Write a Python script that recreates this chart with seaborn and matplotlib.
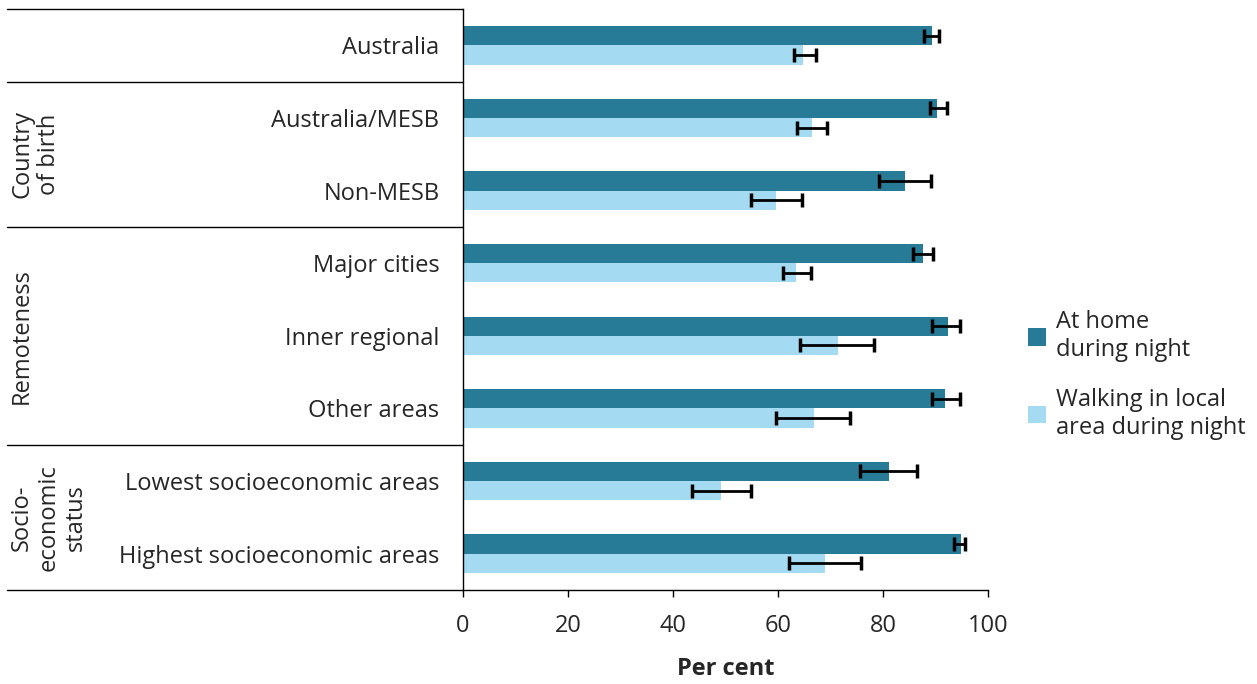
import matplotlib
matplotlib.use("Agg")
import matplotlib.pyplot as plt
import matplotlib.transforms as mtransforms
import numpy as np
import pandas as pd
import seaborn as sns

# Data
categories = ['Australia', 'Australia/MESB', 'Non-MESB', 'Major cities',
              'Inner regional', 'Other areas', 'Lowest socioeconomic areas',
              'Highest socioeconomic areas']
series = ['At home\nduring night', 'Walking in local\narea during night']

home = [89.3, 90.2, 84.2, 87.7, 92.3, 91.8, 81.1, 94.9]
home_lo = [87.9, 88.9, 79.2, 85.8, 89.4, 89.4, 75.7, 93.5]
home_hi = [90.7, 92.2, 89.1, 89.6, 94.7, 94.7, 86.5, 95.7]

walk = [64.8, 66.4, 59.7, 63.4, 71.4, 66.9, 49.1, 69.0]
walk_lo = [63.0, 63.6, 54.9, 61.0, 64.1, 59.6, 43.7, 62.0]
walk_hi = [67.2, 69.3, 64.6, 66.2, 78.3, 73.8, 54.9, 75.8]

groups = ['Country\nof birth', 'Remoteness', 'Socio-\neconomic\nstatus']
group_centres = [1.5, 4.0, 6.5]
separators = [-0.5, 0.5, 2.5, 5.5, 7.5]

colours = ['#277b96', '#a4dbf2']

df = pd.DataFrame({
    'category': categories * 2,
    'series': [series[0]] * len(categories) + [series[1]] * len(categories),
    'value': home + walk,
})

sns.set_style('white')
plt.rcParams['font.family'] = ['Open Sans', 'DejaVu Sans']
fs = 17

fig = plt.figure(figsize=(12.57, 6.84), dpi=100)
ax = fig.add_axes([463 / 1257, 1 - 590 / 684, 525 / 1257, 581 / 684])

sns.barplot(data=df, y='category', x='value', hue='series', order=categories,
            hue_order=series, palette=colours, orient='h', width=0.53,
            saturation=1, linewidth=0, ax=ax, errorbar=None)

# error bars centred on each bar from the bar containers
for cont, vals, lo, hi in zip(ax.containers, [home, walk], [home_lo, walk_lo], [home_hi, walk_hi]):
    ys = [p.get_y() + p.get_height() / 2 for p in cont.patches]
    err = np.array([np.array(vals) - np.array(lo), np.array(hi) - np.array(vals)])
    ax.errorbar(vals, ys, xerr=err, fmt='none', ecolor='black', elinewidth=2,
                capsize=5, capthick=2.5, zorder=5)

ax.set_xlim(0, 100)
ax.set_ylim(7.5, -0.5)
ax.set_xticks(range(0, 101, 20))
ax.set_xlabel('Per cent', fontsize=fs, fontweight='bold', labelpad=14)
ax.set_ylabel('')
ax.tick_params(axis='y', length=0, pad=17, labelsize=fs)
ax.tick_params(axis='x', length=5, width=1, direction='out', pad=12, labelsize=fs, color='black')
ax.xaxis.set_ticks_position('bottom')

for side in ['top', 'right']:
    ax.spines[side].set_visible(False)
for side in ['left', 'bottom']:
    ax.spines[side].set_color('black')
    ax.spines[side].set_linewidth(1)

# group separators and group labels on the left
trans = mtransforms.blended_transform_factory(ax.transAxes, ax.transData)
x_left = (7 - 463) / 525
for y in separators:
    ax.plot([x_left, 0], [y, y], color='black', lw=1, transform=trans, clip_on=False)
for name, yc in zip(groups, group_centres):
    ax.text((10 - 463) / 525, yc, name, rotation=90, ha='left', va='center',
            multialignment='center', fontsize=fs, transform=trans, linespacing=1.15)

leg = ax.legend(loc='center left', bbox_to_anchor=(1.036, 0.37), frameon=False,
                fontsize=fs, handlelength=0.75, handleheight=0.75,
                handletextpad=0.45, labelspacing=1.1)

fig.savefig('out.png', dpi=100)
